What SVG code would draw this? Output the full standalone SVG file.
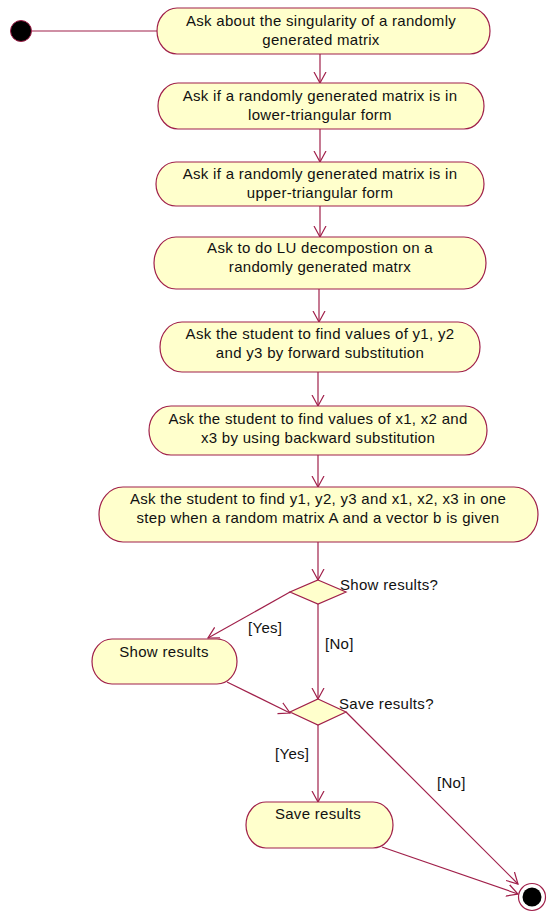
<svg xmlns="http://www.w3.org/2000/svg" width="547" height="914" viewBox="0 0 547 914">
<style>
.act{fill:#FFFFCC;stroke:#A0204A;stroke-width:1.2}
.dec{fill:#FFFFCC;stroke:#A0204A;stroke-width:1.2}
.t{font-family:"Liberation Sans",Arial,sans-serif;font-size:15px;letter-spacing:0.3px;fill:#111;text-anchor:middle}
.l{font-family:"Liberation Sans",Arial,sans-serif;font-size:15px;letter-spacing:0.3px;fill:#111}
.c{fill:none;stroke:#A0204A;stroke-width:1.2;marker-end:url(#arr)}
</style>
<defs>
<marker id="arr" markerUnits="userSpaceOnUse" markerWidth="14" markerHeight="14" refX="11" refY="6" orient="auto" viewBox="0 0 14 12">
<path d="M0,0 L11,6 L0,12" fill="none" stroke="#A0204A" stroke-width="1.2"/>
</marker>
</defs>
<rect width="547" height="914" fill="#FFFFFF"/>
<g id="connectors">
<line class="c" x1="32" y1="31" x2="179" y2="31"/>
<line class="c" x1="320" y1="54" x2="320" y2="83"/>
<line class="c" x1="320" y1="129" x2="320" y2="162"/>
<line class="c" x1="320" y1="206" x2="320" y2="237"/>
<line class="c" x1="319" y1="289" x2="319" y2="322"/>
<line class="c" x1="318" y1="372" x2="318" y2="406"/>
<line class="c" x1="318" y1="455" x2="318" y2="487"/>
<line class="c" x1="318" y1="542" x2="318" y2="580"/>
<line class="c" x1="290" y1="592" x2="208" y2="638"/>
<line class="c" x1="318" y1="604" x2="318" y2="699"/>
<line class="c" x1="227" y1="682" x2="290" y2="713"/>
<line class="c" x1="346" y1="712" x2="518" y2="884"/>
<line class="c" x1="318" y1="725" x2="318" y2="802"/>
<line class="c" x1="382" y1="847" x2="518" y2="894"/>
</g>
<g id="start"><circle cx="21" cy="31" r="10.5" fill="#000" stroke="#A0204A" stroke-width="1"/></g>
<g id="n1"><rect class="act" x="157" y="8" width="333" height="46" rx="20" ry="23"/>
<text class="t" x="321" y="26">Ask about the singularity of a randomly</text>
<text class="t" x="321" y="45">generated matrix</text></g>
<g id="n2"><rect class="act" x="158" y="83" width="326" height="46" rx="20" ry="23"/>
<text class="t" x="320" y="101">Ask if a randomly generated matrix is in</text>
<text class="t" x="320" y="120">lower-triangular form</text></g>
<g id="n3"><rect class="act" x="156" y="162" width="328" height="44" rx="20" ry="22"/>
<text class="t" x="320" y="179">Ask if a randomly generated matrix is in</text>
<text class="t" x="320" y="198">upper-triangular form</text></g>
<g id="n4"><rect class="act" x="154" y="237" width="332" height="52" rx="22" ry="26"/>
<text class="t" x="320" y="253">Ask to do LU decompostion on a</text>
<text class="t" x="320" y="272">randomly generated matrx</text></g>
<g id="n5"><rect class="act" x="160" y="322" width="320" height="50" rx="22" ry="25"/>
<text class="t" x="320" y="339">Ask the student to find values of y1, y2</text>
<text class="t" x="320" y="358">and y3 by forward substitution</text></g>
<g id="n6"><rect class="act" x="149" y="406" width="338" height="49" rx="22" ry="24.5"/>
<text class="t" x="318" y="424">Ask the student to find values of x1, x2 and</text>
<text class="t" x="318" y="443">x3 by using backward substitution</text></g>
<g id="n7"><rect class="act" x="99" y="487" width="439" height="55" rx="24" ry="27.5"/>
<text class="t" x="318" y="504">Ask the student to find y1, y2, y3 and x1, x2, x3 in one</text>
<text class="t" x="318" y="523">step when a random matrix A and a vector b is given</text></g>
<g id="d1"><polygon class="dec" points="318,580 346,592 318,604 290,592"/>
<text class="l" x="340" y="590">Show results?</text></g>
<g id="show"><rect class="act" x="92" y="639" width="145" height="45" rx="20" ry="22.5"/>
<text class="t" x="164" y="657">Show results</text></g>
<g id="d2"><polygon class="dec" points="318,699 346,712 318,725 290,712"/>
<text class="l" x="339" y="709">Save results?</text></g>
<g id="save"><rect class="act" x="246" y="802" width="147" height="46" rx="20" ry="23"/>
<text class="t" x="318" y="819">Save results</text></g>
<g id="end"><circle cx="532" cy="897" r="13.5" fill="#fff" stroke="#A0204A" stroke-width="1.2"/><circle cx="532" cy="897" r="9.5" fill="#000"/></g>
<g id="labels">
<text class="l" x="248" y="633">[Yes]</text>
<text class="l" x="325" y="649">[No]</text>
<text class="l" x="275" y="759">[Yes]</text>
<text class="l" x="437" y="788">[No]</text>
</g>
</svg>
